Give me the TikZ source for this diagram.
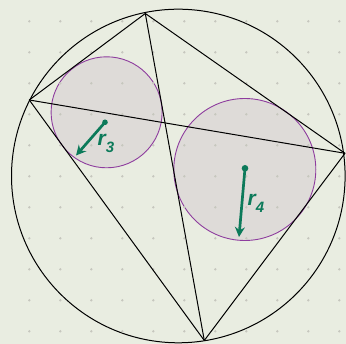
\documentclass[tikz,border=0pt]{standalone}
\usepackage{fontspec}
\setsansfont{Liberation Sans}
\usetikzlibrary{arrows.meta}
\definecolor{bgc}{HTML}{E9EDE1}
\definecolor{dotc}{HTML}{C6C7BE}
\definecolor{fillc}{HTML}{DEDBD8}
\definecolor{purp}{HTML}{8E3D9E}
\definecolor{grn}{HTML}{0C7A5A}
\tikzset{
  edge/.style={black, line width=1pt},
  incirc/.style={draw=purp, fill=fillc, line width=0.9pt},
  radarrow/.style={grn, line width=2.7pt, -{Stealth[length=10pt,width=10pt]}},
  radlabel/.style={grn, font=\sffamily\bfseries\itshape},
}
\newcommand{\rlab}[1]{{\fontsize{21}{21}\selectfont r}\raisebox{-7pt}{\fontsize{15}{15}\selectfont #1}}
\begin{document}
\begin{tikzpicture}[x=1pt,y=-1pt]
\fill[bgc] (0,0) rectangle (346,344);
\useasboundingbox (0,0) rectangle (346,344);
% vertices
\coordinate (A) at (145.3,13.5);
\coordinate (B) at (29.3,100);
\coordinate (C) at (345,153.3);
\coordinate (D) at (204.3,340.5);
\coordinate (O) at (178.3,176);
% circumcircle
\draw[edge] (O) circle[radius=166.8];
% incircles
\node[incirc, circle, minimum size=111pt, inner sep=0pt] (c3) at (106.6,112.3) {};
\node[incirc, circle, minimum size=142pt, inner sep=0pt] (c4) at (244.8,169.5) {};
% grid dots
\foreach \i in {0,...,10}{
  \foreach \j in {0,...,10}{
    \fill[dotc] (29.3+31*\i,21.3+31*\j) circle[radius=1.3pt];
  }
}
% quadrilateral and diagonals
\draw[edge, line join=round] (A) -- (B) -- (D) -- (C) -- cycle;
\draw[edge] (A) -- (D);
\draw[edge] (B) -- (C);
% radius arrows
\coordinate (p3) at (105,122.3);
\coordinate (q3) at (76,155.5);
\coordinate (p4) at (245,168.3);
\coordinate (q4) at (239,237);
\fill[grn] (p3) circle[radius=2.8pt];
\fill[grn] (p4) circle[radius=3.3pt];
\draw[radarrow] (p3) -- (q3);
\draw[radarrow] (p4) -- (q4);
\node[radlabel] (l3) at (106,143) {\rlab{3}};
\node[radlabel] (l4) at (256,203) {\rlab{4}};
\end{tikzpicture}
\end{document}
